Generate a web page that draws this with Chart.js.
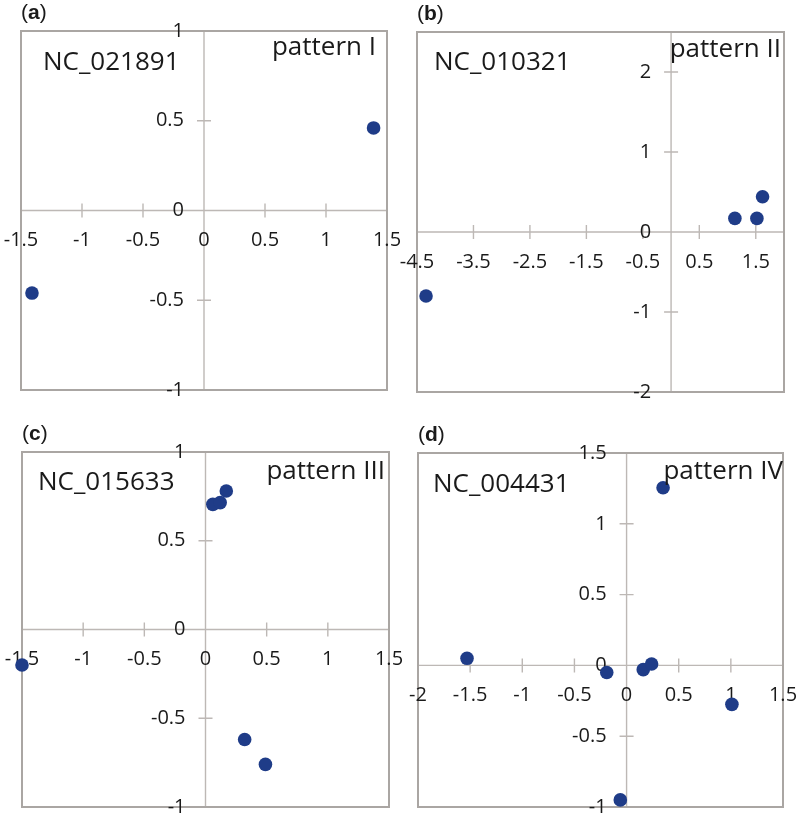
<!DOCTYPE html>
<html>
<head>
<meta charset="utf-8">
<script src="https://cdn.jsdelivr.net/npm/chart.js@4.4.1/dist/chart.umd.min.js"></script>
<style>
  html, body { margin: 0; padding: 0; background: #fff; }
  #wrap { position: relative; width: 800px; height: 817px; }
  #wrap canvas { position: absolute; left: 0; top: 0; }
</style>
</head>
<body>
<div id="wrap">
  <canvas id="pa" width="800" height="817"></canvas>
  <canvas id="pb" width="800" height="817"></canvas>
  <canvas id="pc" width="800" height="817"></canvas>
  <canvas id="pd" width="800" height="817"></canvas>
</div>
<script>
// ---- data ----
const panelLetters = ['a', 'b', 'c', 'd'];
const accessions = ['NC_021891', 'NC_010321', 'NC_015633', 'NC_004431'];
const patterns = ['pattern I', 'pattern II', 'pattern III', 'pattern IV'];

const aX = [1.39, -1.41];
const aY = [0.46, -0.46];
const bX = [1.62, 1.13, 1.52, -4.34];
const bY = [0.44, 0.17, 0.17, -0.80];
const cX = [0.17, 0.06, 0.12, 0.32, 0.49, -1.50];
const cY = [0.78, 0.705, 0.715, -0.62, -0.76, -0.20];
const dX = [0.35, -1.53, -0.19, 0.16, 0.24, 1.01, -0.06];
const dY = [1.255, 0.05, -0.05, -0.03, 0.01, -0.275, -0.95];

// axis ranges + tick labels
const aXTicks = [-1.5, -1, -0.5, 0, 0.5, 1, 1.5];
const aYTicks = [-1, -0.5, 0, 0.5, 1];
const bXTicks = [-4.5, -3.5, -2.5, -1.5, -0.5, 0.5, 1.5];
const bYTicks = [-2, -1, 0, 1, 2];
const cXTicks = [-1.5, -1, -0.5, 0, 0.5, 1, 1.5];
const cYTicks = [-1, -0.5, 0, 0.5, 1];
const dXTicks = [-2, -1.5, -1, -0.5, 0, 0.5, 1, 1.5];
const dYTicks = [-1, -0.5, 0, 0.5, 1, 1.5];

const ranges = [
  { xmin: -1.5, xmax: 1.5, ymin: -1, ymax: 1 },
  { xmin: -4.5, xmax: 2, ymin: -2, ymax: 2.5 },
  { xmin: -1.5, xmax: 1.5, ymin: -1, ymax: 1 },
  { xmin: -2, xmax: 1.5, ymin: -1, ymax: 1.5 }
];

// ---- placement on the page ----
const boxes = [
  { L: 21, T: 31, R: 387, B: 390, idX: 43, idY: 63, patR: 376, patY: 48 },
  { L: 417, T: 32, R: 784, B: 392, idX: 434, idY: 63, patR: 781, patY: 50 },
  { L: 22, T: 452, R: 389, B: 807, idX: 38, idY: 483, patR: 385, patY: 472 },
  { L: 418, T: 453, R: 783, B: 807, idX: 433, idY: 485, patR: 783, patY: 472 }
];

const DOT = '#1f3c88';
const BORDER = '#aaa6a3';
const AXIS = '#bdb8b5';
const TEXT = '#1a1a1a';

function fmt(v) { return String(v); }

function makeAxesPlugin(i, xTicks, yTicks) {
  return {
    id: 'crossAxes' + i,
    beforeDatasetsDraw(chart) {
      const ctx = chart.ctx;
      const a = chart.chartArea;
      const xs = chart.scales.x, ys = chart.scales.y;
      const x0 = xs.getPixelForValue(0);
      const y0 = ys.getPixelForValue(0);
      ctx.save();
      // axis lines
      ctx.strokeStyle = AXIS;
      ctx.lineWidth = 1.4;
      ctx.beginPath();
      ctx.moveTo(a.left, y0); ctx.lineTo(a.right, y0);
      ctx.moveTo(x0, a.top); ctx.lineTo(x0, a.bottom);
      // tick marks
      xTicks.forEach(v => {
        if (v === 0) return;
        const px = xs.getPixelForValue(v);
        ctx.moveTo(px, y0 - 7); ctx.lineTo(px, y0 + 7);
      });
      yTicks.forEach(v => {
        if (v === 0) return;
        const py = ys.getPixelForValue(v);
        ctx.moveTo(x0 - 7, py); ctx.lineTo(x0 + 7, py);
      });
      ctx.stroke();
      // border
      ctx.strokeStyle = BORDER;
      ctx.lineWidth = 2;
      ctx.strokeRect(a.left, a.top, a.right - a.left, a.bottom - a.top);
      // tick labels
      ctx.fillStyle = TEXT;
      ctx.font = '20px "Open Sans"';
      ctx.textBaseline = 'middle';
      ctx.textAlign = 'center';
      xTicks.forEach(v => {
        ctx.fillText(fmt(v), xs.getPixelForValue(v), y0 + 30);
      });
      ctx.textAlign = 'right';
      yTicks.forEach(v => {
        ctx.fillText(fmt(v), x0 - 20, ys.getPixelForValue(v));
      });
      ctx.restore();
    },
    afterDatasetsDraw(chart) {
      const ctx = chart.ctx;
      const b = boxes[i];
      ctx.save();
      ctx.fillStyle = TEXT;
      ctx.textBaseline = 'middle';
      ctx.font = '26px "Open Sans"';
      ctx.textAlign = 'left';
      ctx.fillText(accessions[i], b.idX, b.idY);
      ctx.textAlign = 'right';
      ctx.fillText(patterns[i], b.patR, b.patY);
      // panel letter "(a)" with bold letter
      ctx.textAlign = 'left';
      ctx.textBaseline = 'alphabetic';
      let x = b.L;
      const base = b.T - 12;
      ctx.font = '21px "Liberation Sans"';
      ctx.fillText('(', x, base); x += ctx.measureText('(').width;
      ctx.font = 'bold 21px "Liberation Sans"';
      ctx.fillText(panelLetters[i], x, base); x += ctx.measureText(panelLetters[i]).width;
      ctx.font = '21px "Liberation Sans"';
      ctx.fillText(')', x, base);
      ctx.restore();
    }
  };
}

function drawPanel(canvasId, i, xs, ys, xTicks, yTicks) {
  const b = boxes[i];
  const r = ranges[i];
  const pts = xs.map((x, k) => ({ x: x, y: ys[k] }));
  return new Chart(document.getElementById(canvasId), {
    type: 'scatter',
    data: {
      datasets: [{
        data: pts,
        backgroundColor: DOT,
        borderWidth: 0,
        pointRadius: 6.8,
        pointHoverRadius: 6.8,
        clip: false
      }]
    },
    options: {
      responsive: false,
      animation: false,
      devicePixelRatio: 1,
      events: [],
      layout: { padding: { left: b.L, top: b.T, right: 800 - b.R, bottom: 817 - b.B } },
      plugins: { legend: { display: false }, tooltip: { enabled: false } },
      scales: {
        x: { type: 'linear', min: r.xmin, max: r.xmax, display: false },
        y: { type: 'linear', min: r.ymin, max: r.ymax, display: false }
      }
    },
    plugins: [makeAxesPlugin(i, xTicks, yTicks)]
  });
}

drawPanel('pa', 0, aX, aY, aXTicks, aYTicks);
drawPanel('pb', 1, bX, bY, bXTicks, bYTicks);
drawPanel('pc', 2, cX, cY, cXTicks, cYTicks);
drawPanel('pd', 3, dX, dY, dXTicks, dYTicks);
</script>
</body>
</html>
